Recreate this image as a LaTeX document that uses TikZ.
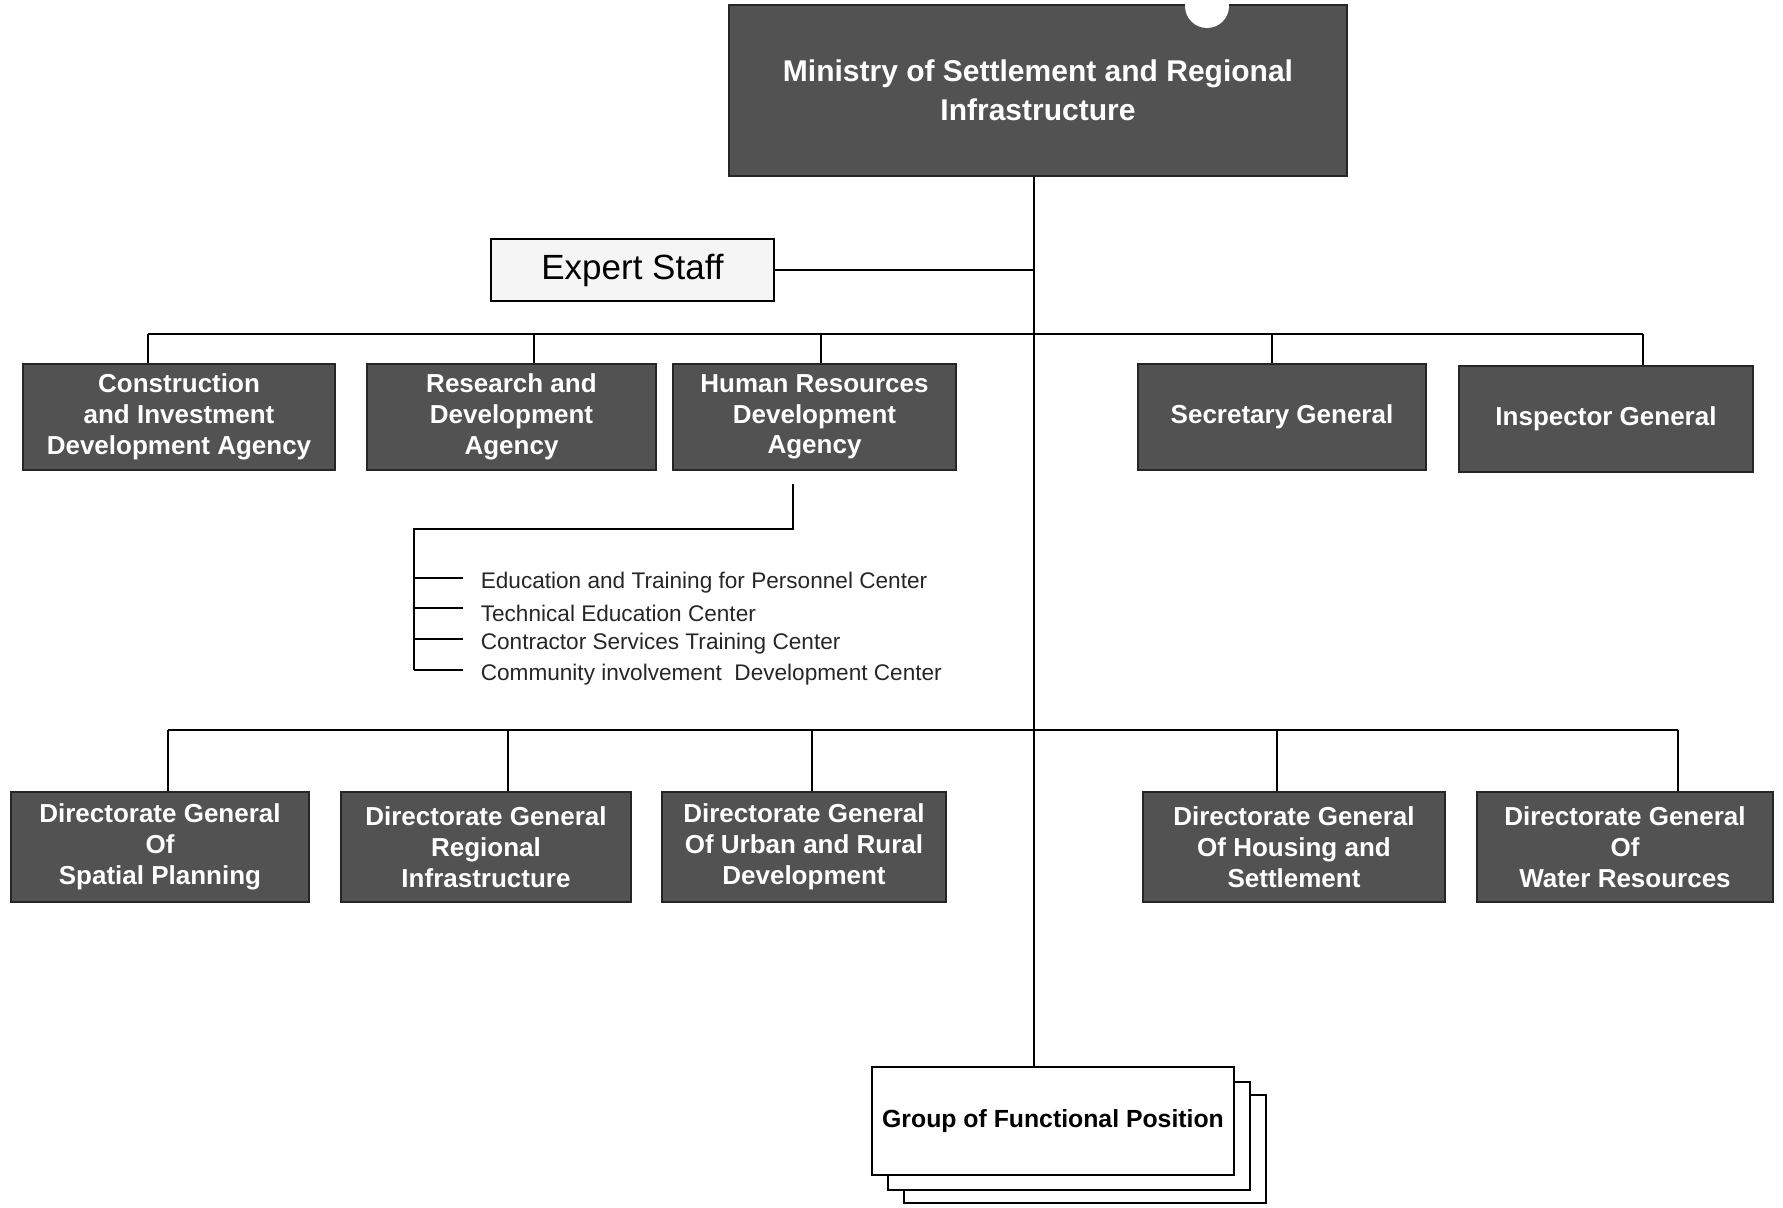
\documentclass[tikz,border=0pt]{standalone}
\usepackage{fontspec}
\setmainfont{Liberation Sans}
\usetikzlibrary{positioning}

\begin{document}
\begin{tikzpicture}[
	x=0.5pt, y=-0.5pt, line width=0.8pt,
	unit/.style={draw=black!85, fill=black!68, text=white, align=center, inner sep=0pt,
		font=\fontsize{13}{15.4}\selectfont\bfseries},
	toprow/.style={unit, minimum height=53pt},
	botrow/.style={unit, minimum height=55pt},
	staff/.style={draw, fill=black!4, inner sep=0pt, minimum width=141.5pt, minimum height=31pt,
		font=\fontsize{17.5}{20}\selectfont},
	centre/.style={inner sep=0pt, text=black!85, font=\fontsize{11.3}{13}\selectfont},
	fgp/.style={draw, fill=white, inner sep=0pt, minimum width=181pt, minimum height=54pt,
		font=\fontsize{12.4}{14}\selectfont\bfseries}]
	%\draw [help lines] (0,0) grid[step=100] (1783,1208);
	\useasboundingbox (0,0) rectangle (1783,1208);

	\node[unit, minimum width=309pt, minimum height=85.5pt,
		font=\fontsize{15}{19.4}\selectfont\bfseries] (ministry) at (1038,90.5)
		{Ministry of Settlement and Regional\\Infrastructure};
	\fill[white] (1207,6) circle (22);

	\coordinate (spine) at (ministry.south -| 1034,0);
	\node[staff] (expert) at (632.5,270) {Expert Staff};
	\draw (expert.east) -- (expert.east -| spine);

	% first row
	\node[toprow, minimum width=156pt] (cida) at (179,417) {Construction\\and Investment\\Development Agency};
	\node[toprow, minimum width=144.5pt] (rda) at (511.5,417) {Research and\\Development\\Agency};
	\node[toprow, minimum width=141.5pt] (hrda) at (814.5,417) {Human Resources\\Development\\Agency};
	\node[toprow, minimum width=144pt] (secgen) at (1282,417) {Secretary General};
	\node[toprow, minimum width=147pt] (insgen) at (1606,419) {Inspector General};
	\draw (148,334) -- (1643,334);
	\foreach \x/\n in {148/cida, 534/rda, 821/hrda, 1272/secgen, 1643/insgen}
		\draw (\x,334) -- (\x,334 |- \n.north);

	% centres under the human resources agency
	\coordinate (hrs) at (hrda.south -| 793,0);
	\draw ([yshift=-6.5pt]hrs) |- (414,529) -- (414,670);
	\foreach \y/\t [count=\i] in {578/Education and Training for Personnel Center,
		608/Technical Education Center, 639/Contractor Services Training Center,
		670/Community involvement\ \ Development Center} {
		\node[centre, anchor=west] (ctr\i) at (480,{\y+5}) {\t};
		\draw (414,\y) -- (463,\y);
	}

	% second row
	\node[botrow, minimum width=149pt] (dgsp) at (160,847) {Directorate General\\Of\\Spatial Planning};
	\node[botrow, minimum width=145pt] (dgri) at (486,847) {Directorate General\\Regional\\Infrastructure};
	\node[botrow, minimum width=142pt] (dgurd) at (804,847) {Directorate General\\Of Urban and Rural\\Development};
	\node[botrow, minimum width=151pt] (dghs) at (1294,847) {Directorate General\\Of Housing and\\Settlement};
	\node[botrow, minimum width=148pt] (dgwr) at (1625,847) {Directorate General\\Of\\Water Resources};
	\draw (168,730) -- (1678,730);
	\foreach \x/\n in {168/dgsp, 508/dgri, 812/dgurd, 1277/dghs, 1678/dgwr}
		\draw (\x,730) -- (\x,730 |- \n.north);

	% functional positions
	\node[fgp] (grp3) at (1085,1149) {};
	\node[fgp] (grp2) at (1069,1136) {};
	\node[fgp] (grp) at (1053,1121) {Group of Functional Position};
	\draw (spine) -- (spine |- grp.north);
\end{tikzpicture}
\end{document}
